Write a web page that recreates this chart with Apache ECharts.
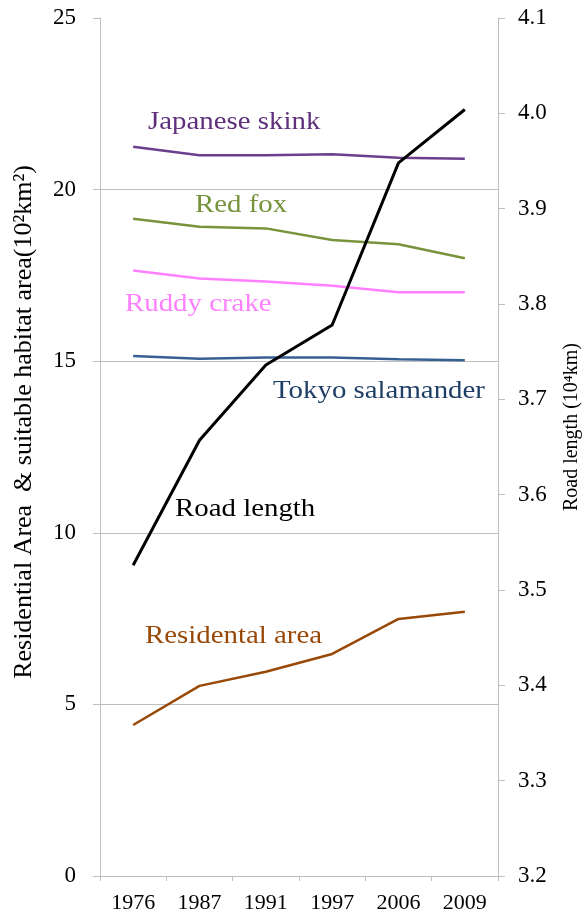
<!DOCTYPE html>
<html>
<head>
<meta charset="utf-8">
<script src="https://cdn.jsdelivr.net/npm/echarts@6/dist/echarts.min.js"></script>
<style>
  html, body { margin: 0; padding: 0; background: #fff; }
  #chart { width: 587px; height: 916px; }
</style>
</head>
<body>
<div id="chart"></div>
<script>
// Survey years (evenly spaced categories)
const years = ['1976', '1987', '1991', '1997', '2006', '2009'];

// Suitable habitat area per species, 10^2 km^2 (left axis)
const japaneseSkink = [21.25, 21.0, 21.0, 21.03, 20.93, 20.9];
const redFox = [19.15, 18.92, 18.87, 18.53, 18.41, 18.0];
const ruddyCrake = [17.64, 17.41, 17.32, 17.2, 17.01, 17.01];
const tokyoSalamander = [15.15, 15.07, 15.11, 15.11, 15.06, 15.03];

// Residential area, 10^2 km^2 (left axis)
const residentialArea = [4.4, 5.54, 5.95, 6.47, 7.49, 7.7];

// Road length, 10^4 km (right axis)
const roadLength = [3.526, 3.657, 3.736, 3.778, 3.948, 4.004];

const serif = '"Liberation Serif", "Times New Roman", serif';
const axisGray = '#bfbfbf';

const chart = echarts.init(document.getElementById('chart'), null, { renderer: 'canvas' });

function lineSeries(name, data, color, width, yAxisIndex) {
  return {
    name: name,
    type: 'line',
    data: data,
    yAxisIndex: yAxisIndex,
    symbol: 'none',
    smooth: false,
    lineStyle: { color: color, width: width },
    itemStyle: { color: color },
    z: 2,
    animation: false
  };
}

function seriesLabel(text, x, y, color) {
  return {
    type: 'text',
    x: x,
    y: y,
    scaleX: 1.11,
    style: {
      text: text,
      fill: color,
      font: '26px ' + serif,
      align: 'left',
      verticalAlign: 'middle'
    },
    z: 10
  };
}

chart.setOption({
  backgroundColor: '#ffffff',
  animation: false,
  grid: { left: 100, right: 89, top: 18, bottom: 40, containLabel: false },
  xAxis: {
    type: 'category',
    data: years,
    boundaryGap: true,
    axisLine: { show: true, lineStyle: { color: axisGray, width: 1 } },
    axisTick: { show: true, length: 5, alignWithLabel: false, lineStyle: { color: axisGray } },
    axisLabel: { color: '#000', fontFamily: serif, fontSize: 22, margin: 16 },
    splitLine: { show: false }
  },
  yAxis: [
    {
      type: 'value',
      min: 0,
      max: 25,
      interval: 5,
      position: 'left',
      axisLine: { show: true, lineStyle: { color: axisGray, width: 1 } },
      axisTick: { show: true, length: 7, inside: false, lineStyle: { color: axisGray } },
      axisLabel: { color: '#000', fontFamily: serif, fontSize: 23, margin: 24 },
      splitLine: { show: true, showMinLine: false, showMaxLine: false, lineStyle: { color: axisGray, width: 1 } }
    },
    {
      type: 'value',
      min: 3.2,
      max: 4.1,
      interval: 0.1,
      position: 'right',
      axisLine: { show: true, lineStyle: { color: axisGray, width: 1 } },
      axisTick: { show: true, length: 7, inside: false, lineStyle: { color: axisGray } },
      axisLabel: {
        color: '#000', fontFamily: serif, fontSize: 23, margin: 20,
        formatter: function (v) { return v.toFixed(1); }
      },
      splitLine: { show: false }
    }
  ],
  series: [
    lineSeries('Japanese skink', japaneseSkink, '#6b3f8c', 2.5, 0),
    lineSeries('Red fox', redFox, '#77933c', 2.5, 0),
    lineSeries('Ruddy crake', ruddyCrake, '#ff80ff', 2.5, 0),
    lineSeries('Tokyo salamander', tokyoSalamander, '#376092', 2.5, 0),
    lineSeries('Residental area', residentialArea, '#984807', 2.5, 0),
    Object.assign(lineSeries('Road length', roadLength, '#000000', 3, 1), { z: 3 })
  ],
  graphic: [
    seriesLabel('Japanese skink', 148, 122, '#60307c'),
    seriesLabel('Red fox', 195, 205, '#77933c'),
    seriesLabel('Ruddy crake', 125, 304, '#ff80ff'),
    seriesLabel('Tokyo salamander', 273, 391, '#1f3f66'),
    seriesLabel('Road length', 175, 509, '#000000'),
    seriesLabel('Residental area', 145, 636, '#984807'),
    {
      type: 'text',
      x: 24,
      y: 422,
      rotation: Math.PI / 2,
      style: {
        text: 'Residential Area  & suitable habitat area(10²km²)',
        fill: '#000',
        font: '26px ' + serif,
        align: 'center',
        verticalAlign: 'middle'
      }
    },
    {
      type: 'text',
      x: 572,
      y: 427,
      rotation: Math.PI / 2,
      style: {
        text: 'Road length (10⁴km)',
        fill: '#000',
        font: '20px ' + serif,
        align: 'center',
        verticalAlign: 'middle'
      }
    }
  ]
});
</script>
</body>
</html>
